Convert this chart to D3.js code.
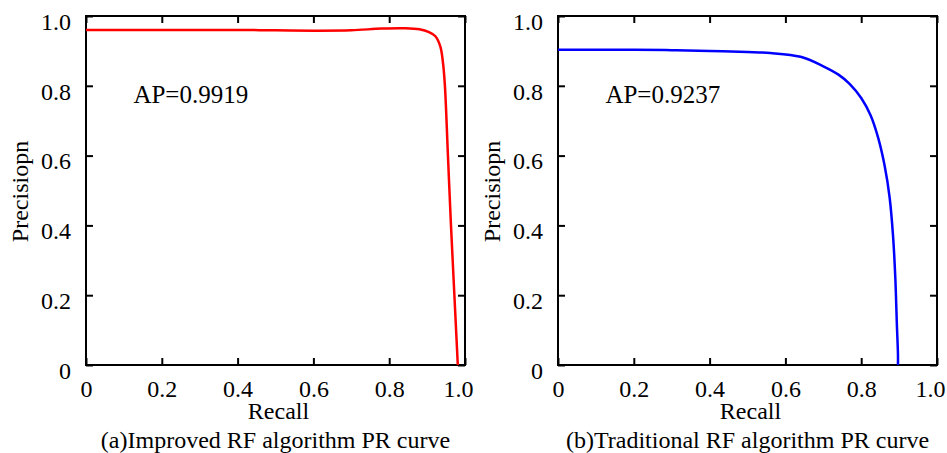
<!DOCTYPE html>
<html>
<head>
<meta charset="utf-8">
<script src="https://cdn.jsdelivr.net/npm/d3@7"></script>
<style>
  body { margin: 0; background: #fff; }
  svg text { font-family: "Liberation Serif", serif !important; fill: #000; }
</style>
</head>
<body>
<script>
// ================== DATA ===========================
const tickValues = [0, 0.2, 0.4, 0.6, 0.8, 1.0];
const tickLabels = ["0", "0.2", "0.4", "0.6", "0.8", "1.0"];

// (a) improved RF
const recallA = [0, 0.1, 0.2, 0.3, 0.4, 0.5, 0.6, 0.7, 0.78, 0.84, 0.88, 0.905, 0.922, 0.935, 0.942, 0.947, 0.955, 0.963, 0.972, 0.981];
const precisionA = [0.96, 0.96, 0.96, 0.96, 0.96, 0.959, 0.958, 0.959, 0.964, 0.965, 0.962, 0.954, 0.942, 0.912, 0.865, 0.8, 0.6, 0.4, 0.2, 0];

// (b) traditional RF
const recallB = [0, 0.1, 0.2, 0.3, 0.4, 0.5, 0.56, 0.64, 0.7, 0.74, 0.77, 0.8, 0.825, 0.845, 0.862, 0.875, 0.884, 0.89, 0.894, 0.897, 0.897];
const precisionB = [0.903, 0.903, 0.903, 0.902, 0.9, 0.897, 0.894, 0.883, 0.856, 0.832, 0.805, 0.765, 0.715, 0.65, 0.57, 0.48, 0.37, 0.25, 0.12, 0.03, 0];

const apLabels = ["AP=0.9919", "AP=0.9237"];
const captions = ["(a)Improved RF algorithm PR curve", "(b)Traditional RF algorithm PR curve"];
const xTitle = "Recall";
const yTitle = "Precisiopn";

// ================== LAYOUT ===========================
const serif = '"Liberation Serif", serif';
const svg = d3.select("body")
              .append("svg")
              .attr("width", 947)
              .attr("height", 453)
              .attr("font-family", serif);

const plotTop = 16, plotBottom = 365;
const fontSize = 24;

function drawPanel(left, right, recall, precision, color, ap, caption) {
  const x = d3.scaleLinear().domain([0, 1]).range([left, right]);
  const y = d3.scaleLinear().domain([0, 1]).range([plotBottom, plotTop]);
  const fmt = d => tickLabels[tickValues.indexOf(d)];

  const g = svg.append("g");

  // axes with inward ticks
  const xAxis = g.append("g")
    .attr("transform", `translate(0, ${plotBottom})`)
    .call(d3.axisBottom(x).tickValues(tickValues).tickFormat(fmt)
      .tickSizeInner(-7).tickSizeOuter(0).tickPadding(15));
  const yAxis = g.append("g")
    .attr("transform", `translate(${left}, 0)`)
    .call(d3.axisLeft(y).tickValues(tickValues).tickFormat(fmt)
      .tickSizeInner(-7).tickSizeOuter(0).tickPadding(15));
  g.append("g")
    .attr("transform", `translate(0, ${plotTop})`)
    .call(d3.axisTop(x).tickValues(tickValues).tickFormat("")
      .tickSizeInner(-7).tickSizeOuter(0));
  g.append("g")
    .attr("transform", `translate(${right}, 0)`)
    .call(d3.axisRight(y).tickValues(tickValues).tickFormat("")
      .tickSizeInner(-7).tickSizeOuter(0));

  g.selectAll(".domain").remove();
  g.selectAll("g").attr("font-family", serif).attr("font-size", fontSize);
  g.selectAll(".tick line").attr("stroke", "#000").attr("stroke-width", 2);
  yAxis.selectAll(".tick text").attr("dy", "0.55em");
  // last x label sits a little left of the corner
  xAxis.selectAll(".tick text").filter(d => d === 1).attr("dx", -7);

  // frame
  g.append("rect")
    .attr("x", left).attr("y", plotTop)
    .attr("width", right - left).attr("height", plotBottom - plotTop)
    .attr("fill", "none").attr("stroke", "#000").attr("stroke-width", 2);

  // curve
  const line = d3.line()
    .x((d, i) => x(recall[i]))
    .y(d => y(d))
    .curve(d3.curveCatmullRom.alpha(0.5));
  g.append("path")
    .datum(precision)
    .attr("d", line)
    .attr("fill", "none")
    .attr("stroke", color)
    .attr("stroke-width", 2.5);

  // AP label
  g.append("text")
    .attr("x", x(0.125)).attr("y", 103)
    .attr("font-size", 25)
    .text(ap);

  // titles
  const mid = (left + right) / 2;
  g.append("text")
    .attr("x", mid + 3).attr("y", 419)
    .attr("text-anchor", "middle")
    .attr("font-size", fontSize)
    .text(xTitle);
  g.append("text")
    .attr("transform", `translate(${left - 58}, ${(plotTop + plotBottom) / 2 + 1}) rotate(-90)`)
    .attr("text-anchor", "middle")
    .attr("font-size", fontSize)
    .text(yTitle);
  g.append("text")
    .attr("x", mid).attr("y", 448)
    .attr("text-anchor", "middle")
    .attr("font-size", fontSize)
    .text(caption);
}

drawPanel(86, 465, recallA, precisionA, "#ff0000", apLabels[0], captions[0]);
drawPanel(558, 937, recallB, precisionB, "#0000ff", apLabels[1], captions[1]);
</script>
</body>
</html>
